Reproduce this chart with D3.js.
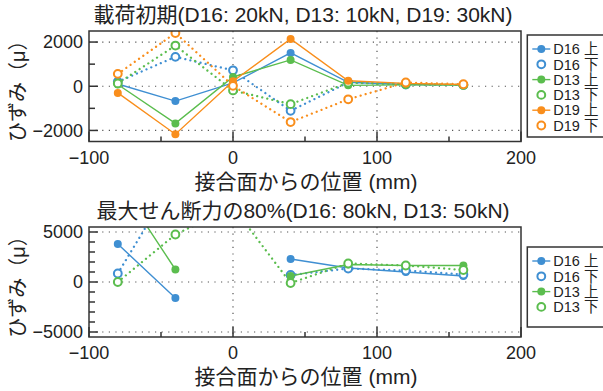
<!DOCTYPE html>
<html>
<head>
<meta charset="utf-8">
<script src="https://cdn.jsdelivr.net/npm/d3@7"></script>
<style>
  body { margin: 0; background: #fff; }
  svg { display: block; font-family: "Liberation Sans", "Noto Sans CJK JP", sans-serif; }
</style>
</head>
<body>
<svg id="chart" width="603" height="391"></svg>
<script>
// Gauge positions measured from the joint face (mm)
const positions = [-80, -40, 0, 40, 80, 120, 160];
const xTicksMajor = [-100, 0, 100, 200];
const xTicksMinor = [-50, 50, 150];

// Panel 1: initial loading stage — strain (μ) per gauge
const initD16Top = [100, -670, 150, 1510, 180, 80, 60];
const initD16Bot = [200, 1330, 720, -1110, 170, 80, 60];
const initD13Top = [80, -1680, 420, 1190, 40, 60, 50];
const initD13Bot = [130, 1840, -190, -810, 160, 100, 60];
const initD19Top = [-300, -2170, 230, 2140, 250, 130, 80];
const initD19Bot = [560, 2410, 20, -1620, -590, 170, 90];
const initYTicks = [-2000, 0, 2000];

// Panel 2: 80% of maximum shear — strain (μ) per gauge (null = no reading)
const peakD16Top = [3800, -1600, null, 2300, 1400, 1000, 600];
const peakD16Bot = [850, 10400, null, 700, 1350, 1150, 750];
const peakD13Top = [10000, 1250, null, 600, 1750, 1650, 1650];
const peakD13Bot = [0, 4750, 7500, -100, 1850, 1650, 1200];
const peakYTicks = [-5000, 0, 5000];

const colors = { D16: "#3f8fd2", D13: "#5bbd4e", D19: "#f98e1c" };

const svg = d3.select("#chart");
const X0 = 89, X1 = 521;
const x = d3.scaleLinear().domain([-100, 200]).range([X0, X1]);

function panel(opts) {
  const { top, bottom, yDomain, yTicks, minorStep, title, series, legend, id } = opts;
  const y = d3.scaleLinear().domain(yDomain).range([bottom, top]);
  const g = svg.append("g");

  g.append("clipPath").attr("id", id)
    .append("rect").attr("x", X0).attr("y", top).attr("width", X1 - X0).attr("height", bottom - top);

  // dotted grid at labelled ticks
  const grid = g.append("g").attr("stroke", "#555").attr("stroke-width", 1.2)
    .attr("stroke-dasharray", "1.2 5.4");
  yTicks.forEach(v => grid.append("line").attr("x1", X0).attr("x2", X1).attr("y1", y(v)).attr("y2", y(v)));
  [0, 100].forEach(v => grid.append("line").attr("x1", x(v)).attr("x2", x(v)).attr("y1", top).attr("y2", bottom));

  // ticks (inward)
  const tk = g.append("g").attr("stroke", "#333").attr("stroke-width", 1.5);
  const minorY = d3.range(Math.ceil(yDomain[0] / minorStep) * minorStep, yDomain[1] + 1, minorStep);
  minorY.forEach(v => {
    const len = yTicks.includes(v) ? 9 : 6;
    tk.append("line").attr("x1", X0).attr("x2", X0 + len).attr("y1", y(v)).attr("y2", y(v));
  });
  xTicksMajor.forEach(v => tk.append("line").attr("x1", x(v)).attr("x2", x(v)).attr("y1", bottom).attr("y2", bottom - 10));
  xTicksMinor.forEach(v => tk.append("line").attr("x1", x(v)).attr("x2", x(v)).attr("y1", bottom).attr("y2", bottom - 5));

  // tick labels
  const fmt = v => (v < 0 ? "\u2212" : "") + Math.abs(v);
  yTicks.forEach(v => g.append("text").attr("x", X0 - 6).attr("y", y(v)).attr("dy", "0.35em")
    .attr("text-anchor", "end").attr("font-size", 18).attr("fill", "#222").text(fmt(v)));
  xTicksMajor.forEach(v => g.append("text").attr("x", x(v)).attr("y", bottom + 22)
    .attr("text-anchor", "middle").attr("font-size", 18).attr("fill", "#222").text(fmt(v)));

  // data
  const plot = g.append("g").attr("clip-path", `url(#${id})`);
  series.forEach(s => {
    const pts = positions.map((p, i) => ({ p, v: s.values[i] }));
    const line = d3.line().defined(d => d.v !== null).x(d => x(d.p)).y(d => y(d.v));
    const path = plot.append("path").attr("d", line(pts)).attr("fill", "none")
      .attr("stroke", s.color);
    if (s.open) {
      path.attr("stroke-width", 2.3).attr("stroke-dasharray", "0.01 5.2").attr("stroke-linecap", "round");
    } else {
      path.attr("stroke-width", 1.4);
    }
    plot.selectAll(null).data(pts.filter(d => d.v !== null)).join("circle")
      .attr("cx", d => x(d.p)).attr("cy", d => y(d.v))
      .attr("r", s.open ? 3.9 : 4)
      .attr("fill", s.open ? "#fff" : s.color)
      .attr("stroke", s.open ? s.color : "none")
      .attr("stroke-width", 2);
  });

  // frame
  g.append("rect").attr("x", X0).attr("y", top).attr("width", X1 - X0).attr("height", bottom - top)
    .attr("fill", "none").attr("stroke", "#333").attr("stroke-width", 1.5);

  // titles
  g.append("text").attr("x", (X0 + X1) / 2 - 2).attr("y", top - 9).attr("text-anchor", "middle")
    .attr("font-size", 21).attr("fill", "#222").text(title);
  g.append("text").attr("x", (X0 + X1) / 2 + 1).attr("y", bottom + 47).attr("text-anchor", "middle")
    .attr("font-size", 21).attr("fill", "#222").text("接合面からの位置 (mm)");
  g.append("text").attr("transform", `translate(25,${(top + bottom) / 2}) rotate(-90)`)
    .attr("text-anchor", "middle").attr("font-size", 20).attr("fill", "#222").text("ひずみ（μ）");

  // legend
  const lg = g.append("g");
  const rowH = 15.3;
  lg.append("rect").attr("x", legend.x).attr("y", legend.y).attr("width", 110)
    .attr("height", legend.h).attr("fill", "#fff").attr("stroke", "#333").attr("stroke-width", 1.5);
  series.forEach((s, i) => {
    const cy = legend.y + 14 + i * rowH;
    const row = lg.append("g");
    if (!s.open) {
      row.append("line").attr("x1", legend.x + 5).attr("x2", legend.x + 23).attr("y1", cy).attr("y2", cy)
        .attr("stroke", s.color).attr("stroke-width", 1.4);
    }
    row.append("circle").attr("cx", legend.x + 14).attr("cy", cy).attr("r", s.open ? 3.9 : 4)
      .attr("fill", s.open ? "#fff" : s.color).attr("stroke", s.open ? s.color : "none").attr("stroke-width", 2);
    row.append("text").attr("x", legend.x + 26).attr("y", cy).attr("dy", "0.36em")
      .attr("font-size", 14.5).attr("fill", "#222").text(s.name);
  });
}

panel({
  id: "clipInit", top: 31, bottom: 141.5, yDomain: [-2500, 2500], yTicks: initYTicks, minorStep: 1000,
  title: "載荷初期(D16: 20kN, D13: 10kN, D19: 30kN)",
  legend: { x: 527.3, y: 35, h: 102 },
  series: [
    { name: "D16 上", values: initD16Top, color: colors.D16, open: false },
    { name: "D16 下", values: initD16Bot, color: colors.D16, open: true },
    { name: "D13 上", values: initD13Top, color: colors.D13, open: false },
    { name: "D13 下", values: initD13Bot, color: colors.D13, open: true },
    { name: "D19 上", values: initD19Top, color: colors.D19, open: false },
    { name: "D19 下", values: initD19Bot, color: colors.D19, open: true }
  ]
});

panel({
  id: "clipPeak", top: 227, bottom: 337, yDomain: [-5500, 5500], yTicks: peakYTicks, minorStep: 1000,
  title: "最大せん断力の80%(D16: 80kN, D13: 50kN)",
  legend: { x: 527.3, y: 247, h: 80 },
  series: [
    { name: "D16 上", values: peakD16Top, color: colors.D16, open: false },
    { name: "D16 下", values: peakD16Bot, color: colors.D16, open: true },
    { name: "D13 上", values: peakD13Top, color: colors.D13, open: false },
    { name: "D13 下", values: peakD13Bot, color: colors.D13, open: true }
  ]
});
</script>
</body>
</html>
